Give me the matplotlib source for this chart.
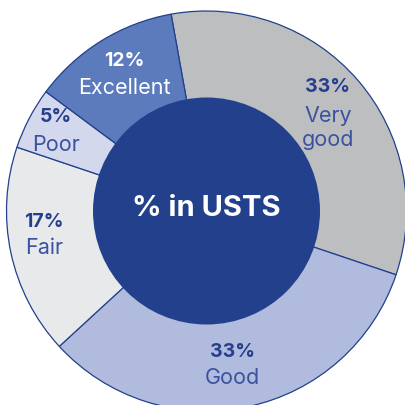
import matplotlib.pyplot as plt
from matplotlib.patches import Circle

plt.rcParams['font.family'] = ['Inter', 'DejaVu Sans']

labels = ["Very\ngood", "Good", "Fair", "Poor", "Excellent"]
shares = [33, 33, 17, 5, 12]
colors = ["#bdbec0", "#b0bbdd", "#e8e9eb", "#d3d8ec", "#5b7bbd"]
navy = "#22408b"
pct_col = ["#263f8c", "#263f8c", "#263f8c", "#263f8c", "white"]
name_col = ["#3a52a0", "#3a52a0", "#3a52a0", "#3a52a0", "white"]

fig = plt.figure(figsize=(4.05, 4.06), dpi=100)
ax = fig.add_axes([0, 0, 1, 1])

cx, cy, R, r_in = 206.5, 194, 200, 113.5

wedges, _ = ax.pie(shares, colors=colors, startangle=100.2, counterclock=False,
                   radius=R, center=(cx, cy),
                   wedgeprops=dict(edgecolor=navy, linewidth=0.9))
ax.add_patch(Circle((cx, cy), r_in, facecolor=navy, edgecolor='none', zorder=3))

# pie() resets the limits, so set pixel-space limits afterwards
ax.set_xlim(0, 405)
ax.set_ylim(0, 406)
ax.set_aspect('equal')
ax.axis('off')

# label positions in pixel space (x from left, y from top)
pos = [(328, 87, 128), (232.7, 352, 378), (44, 222, 248), (55.7, 117, 145), (124, 61, 88)]
for lab, s, pc, nc, (x, ytop, ylab) in zip(labels, shares, pct_col, name_col, pos):
    ax.text(x, 406 - ytop, f"{s}%", ha='center', va='center', fontsize=14,
            fontweight='bold', color=pc, zorder=4)
    ax.text(x, 406 - ylab, lab, ha='center', va='center',
            fontsize=15.5, color=nc, zorder=4, linespacing=1.2)

ax.text(cx, 406 - 209, "% in USTS", ha='center', va='center', fontsize=21,
        fontweight='bold', color='white', zorder=4)

fig.savefig('out.png', dpi=100)
